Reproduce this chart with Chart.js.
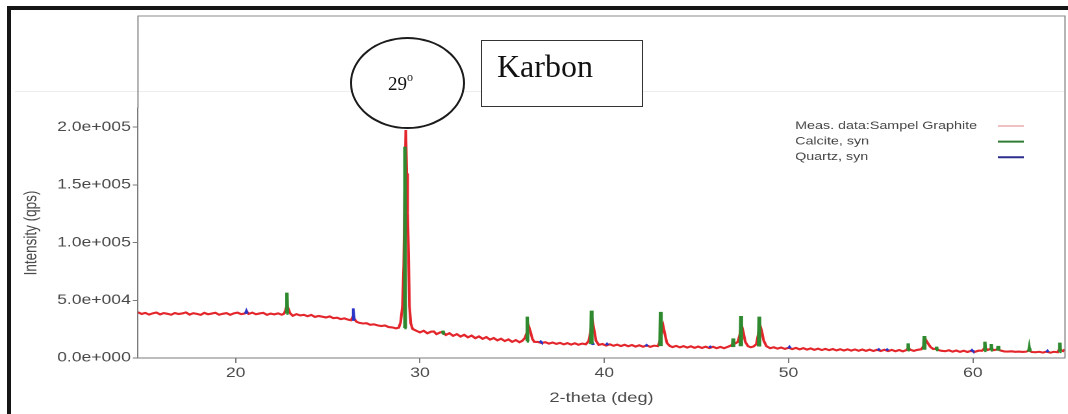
<!DOCTYPE html>
<html>
<head>
<meta charset="utf-8">
<script src="https://cdn.jsdelivr.net/npm/chart.js@4.4.1/dist/chart.umd.min.js"></script>
<style>
  html, body { margin: 0; padding: 0; background: #fff; }
  body { width: 1068px; height: 414px; overflow: hidden; position: relative; }
  #frame { position: absolute; left: 7px; top: 6px; width: 2000px; height: 1000px;
           border-left: 4px solid #151515; border-top: 4px solid #151515; }
  #faint { position: absolute; left: 15px; top: 91px; width: 1050px; height: 1px; background: #ededed; }
  #stretch { position: absolute; left: 0; top: 0; width: 822px; height: 414px;
             transform: scaleX(1.29927); transform-origin: 0 0; }
  #ring { position: absolute; left: 350px; top: 37px; width: 111px; height: 88px;
          border: 2px solid #1c1c1c; border-radius: 50%; background: #fff; }
  .serif { position: absolute; font-family: "Liberation Serif", "Times New Roman", serif; color: #111; line-height: 1; white-space: nowrap; }
  #deg { left: 388px; top: 74px; font-size: 19px; }
  #deg sup { font-size: 12px; vertical-align: 0; position: relative; top: -9px; }
  #karbonBox { position: absolute; left: 481px; top: 40px; width: 160px; height: 65px; border: 1px solid #333; background: #fff; }
  #karbon { left: 497px; top: 50px; font-size: 32px; }
</style>
</head>
<body>
<div id="frame"></div>
<div id="faint"></div>
<div id="stretch"><canvas id="xrd" width="822" height="414"></canvas></div>
<div id="ring"></div>
<div id="deg" class="serif">29<sup>o</sup></div>
<div id="karbonBox"></div>
<div id="karbon" class="serif">Karbon</div>
<script>
const seriesLabels = ['Meas. data:Sampel Graphite', 'Calcite, syn', 'Quartz, syn'];
const xTicks = [20, 30, 40, 50, 60];
const yTicks = [0, 50000, 100000, 150000, 200000];

const measTheta = [
  14.7, 14.9, 15.1, 15.3, 15.5, 15.7, 15.9, 16.1, 16.3, 16.5,
  16.7, 16.9, 17.1, 17.3, 17.5, 17.7, 17.9, 18.1, 18.3, 18.5,
  18.7, 18.9, 19.1, 19.3, 19.5, 19.7, 19.9, 20.1, 20.3, 20.5,
  20.6, 20.7, 20.9, 21.1, 21.3, 21.5, 21.7, 21.9, 22.1, 22.3,
  22.5, 22.62, 22.7, 22.78, 22.86, 22.95, 23.1, 23.3, 23.5, 23.7,
  23.9, 24.1, 24.3, 24.5, 24.7, 24.9, 25.1, 25.3, 25.5, 25.7,
  25.9, 26.1, 26.25, 26.35, 26.45, 26.55, 26.7, 26.9, 27.1, 27.3,
  27.5, 27.7, 27.9, 28.1, 28.3, 28.5, 28.7, 28.85, 28.95, 29.05,
  29.12, 29.18, 29.23, 29.28, 29.33, 29.38, 29.43, 29.5, 29.6, 29.8,
  30.0, 30.2, 30.4, 30.6, 30.75, 30.9, 31.1, 31.25, 31.4, 31.6,
  31.8, 32.0, 32.2, 32.4, 32.6, 32.8, 33.0, 33.2, 33.4, 33.6,
  33.8, 34.0, 34.2, 34.4, 34.6, 34.8, 35.0, 35.2, 35.4, 35.55,
  35.7, 35.8, 35.9, 36.0, 36.1, 36.2, 36.4, 36.6, 36.8, 37.0,
  37.2, 37.4, 37.6, 37.8, 38.0, 38.2, 38.4, 38.6, 38.8, 39.0,
  39.15, 39.25, 39.35, 39.45, 39.55, 39.7, 39.9, 40.1, 40.3, 40.5,
  40.7, 40.9, 41.1, 41.3, 41.5, 41.7, 41.9, 42.1, 42.3, 42.5,
  42.7, 42.9, 43.0, 43.1, 43.2, 43.3, 43.4, 43.55, 43.7, 43.9,
  44.1, 44.3, 44.5, 44.7, 44.9, 45.1, 45.3, 45.5, 45.7, 45.9,
  46.1, 46.3, 46.5, 46.7, 46.9, 47.0, 47.1, 47.25, 47.35, 47.45,
  47.55, 47.65, 47.8, 47.95, 48.1, 48.25, 48.35, 48.45, 48.55, 48.65,
  48.8, 49.0, 49.2, 49.4, 49.6, 49.8, 50.0, 50.2, 50.4, 50.6,
  50.8, 51.0, 51.2, 51.4, 51.6, 51.8, 52.0, 52.2, 52.4, 52.6,
  52.8, 53.0, 53.2, 53.4, 53.6, 53.8, 54.0, 54.2, 54.4, 54.6,
  54.8, 55.0, 55.2, 55.4, 55.6, 55.8, 56.0, 56.2, 56.4, 56.5,
  56.6, 56.8, 57.0, 57.2, 57.35, 57.45, 57.55, 57.7, 57.85, 58.0,
  58.1, 58.3, 58.5, 58.7, 58.9, 59.1, 59.3, 59.5, 59.7, 59.9,
  60.1, 60.3, 60.5, 60.65, 60.8, 61.0, 61.15, 61.35, 61.5, 61.7,
  61.9, 62.1, 62.3, 62.5, 62.7, 62.9, 63.05, 63.2, 63.4, 63.6,
  63.8, 64.0, 64.2, 64.4, 64.6, 64.7, 64.8, 64.9, 65.0
];
const measCounts = [
  39600, 38200, 39100, 37600, 38700, 39400, 37800, 38900, 38300, 37500,
  39000, 38100, 38600, 39500, 37600, 38800, 38200, 37400, 39100, 37900,
  38500, 39200, 37500, 38300, 38900, 37400, 38700, 39300, 38000, 38600,
  40400, 38200, 39300, 37900, 38600, 39100, 37400, 38500, 37800, 38700,
  37500, 38300, 41000, 46000, 42500, 38800, 36600, 38000, 36900, 37400,
  36200, 37300, 35600, 36400, 35800, 35100, 36000, 34500, 34900, 33700,
  34300, 33200, 32700, 35500, 33600, 31500, 30500, 29900, 30100, 28800,
  29200, 28300, 27700, 28200, 26800, 26500, 25700, 26300, 31000, 45000,
  80000, 150000, 197500, 160000, 126000, 90000, 45000, 30000, 25200, 23600,
  22200, 23600, 21400, 22800, 23000, 20700, 22200, 22600, 20000, 21500,
  19200, 20700, 18600, 20100, 17900, 19400, 17200, 18700, 16600, 18100,
  15900, 17300, 15300, 16700, 14700, 16100, 14000, 15500, 13700, 14900,
  17500, 22000, 27500, 22500, 16500, 14000, 13900, 13000, 13700, 12500,
  13400, 12200, 13100, 11800, 12900, 11600, 12700, 11500, 12500, 11900,
  14500, 22000, 33000, 24000, 15000, 11400, 12100, 10800, 11900, 10600,
  11600, 10300, 11400, 10200, 11200, 9900, 11000, 9800, 10900, 9700,
  10700, 10300, 13500, 21000, 27500, 20000, 13000, 10500, 9500, 10500,
  9200, 10300, 9000, 10100, 8800, 9900, 8700, 9800, 8600, 9700,
  8500, 9600, 8500, 9700, 11000, 13500, 12600, 14000, 20000, 28500,
  22000, 14000, 10200, 9300, 10000, 12000, 20000, 28600, 23000, 15000,
  10200, 8500, 9300, 8100, 9100, 7900, 8900, 7700, 8700, 7500,
  8500, 7300, 8300, 7100, 8100, 6900, 7900, 6800, 7800, 6600,
  7600, 6500, 7500, 6400, 7400, 6300, 7300, 6200, 7200, 6100,
  7100, 6100, 7100, 6000, 7000, 5900, 6900, 5800, 6900, 8600,
  7200, 6200, 7100, 7500, 11000, 15600, 13000, 9500, 7800, 8000,
  7000, 6200, 5900, 6700, 5500, 6500, 5300, 6300, 5200, 6200,
  5300, 6300, 6300, 8800, 7000, 8200, 6800, 7500, 6500, 5700,
  5600, 5800, 5400, 5600, 5300, 5500, 6500, 5200, 5000, 5400,
  4700, 5500, 4600, 5400, 5000, 7800, 6800, 6000, 7500
];

const calcitePos  = [22.78, 29.18, 31.25, 35.82, 39.3, 43.05, 46.99, 47.41, 48.4, 56.49, 57.36, 58.03, 60.65, 61.0, 61.37, 63.06, 64.72];
const calciteTop  = [56600, 183000, 23700, 35800, 41000, 40000, 17000, 36400, 35800, 12700, 19000, 9800, 14100, 12100, 10400, 8400, 13300];
const calciteBase = [38500, 26000, 21000, 14500, 12000, 10300, 9500, 10200, 10000, 6800, 7200, 7000, 6200, 6600, 6400, 5600, 5400];

const quartzPos  = [20.58, 26.38, 36.55, 39.38, 40.15, 42.3, 45.75, 50.05, 54.9, 55.35, 59.95, 64.05];
const quartzTop  = [40800, 43000, 14300, 12800, 12300, 11200, 9800, 9700, 7500, 7400, 6900, 6200];
const quartzBase = [38400, 33000, 13400, 11400, 11200, 10300, 9000, 8400, 6600, 6500, 5900, 5100];

function sticks(pos, top, base, half) {
  let pts = [];
  pos.forEach((p, i) => {
    pts.push({x: p - half, y: base[i]}, {x: p, y: top[i]}, {x: p + half, y: base[i]}, {x: p, y: null});
  });
  return pts;
}

function sci(v) {
  if (v === 0) return '0.0e+000';
  const e = Math.floor(Math.log10(v));
  return (v / Math.pow(10, e)).toFixed(1) + 'e+' + String(e).padStart(3, '0');
}

const frameAndKey = {
  id: 'frameAndKey',
  afterDraw(chart) {
    const {ctx, chartArea: a} = chart;
    ctx.save();
    ctx.strokeStyle = '#8a8a8a';
    ctx.lineWidth = 1;
    ctx.beginPath();
    ctx.moveTo(a.left, a.top);
    ctx.lineTo(a.left, 16);
    ctx.lineTo(a.right, 16);
    ctx.lineTo(a.right, a.bottom);
    ctx.stroke();

    const keyColors = ['#dc8585', '#2e7d32', '#2c2c8c'];
    ctx.font = '11px "Liberation Sans", Arial, sans-serif';
    ctx.textBaseline = 'middle';
    chart.data.datasets.forEach((ds, i) => {
      const y = 126 + i * 15.6;
      ctx.fillStyle = '#454545';
      ctx.fillText(ds.label, 612, y);
      ctx.strokeStyle = keyColors[i];
      ctx.lineWidth = i === 0 ? 1 : 2;
      ctx.beginPath();
      ctx.moveTo(768, y);
      ctx.lineTo(788, y);
      ctx.stroke();
    });
    ctx.restore();
  }
};

Chart.defaults.font.family = '"Liberation Sans", Arial, sans-serif';
Chart.defaults.color = '#4a4a4a';

let ctx = document.getElementById('xrd');
let xrdChart = new Chart(ctx, {
  type: 'line',
  data: {
    datasets: [
      {
        label: seriesLabels[0],
        data: measTheta.map((t, i) => ({x: t, y: measCounts[i]})),
        borderColor: '#e3262b',
        borderWidth: 2.1,
        pointRadius: 0,
        order: 3
      },
      {
        label: seriesLabels[1],
        data: sticks(calcitePos, calciteTop, calciteBase, 0.03),
        borderColor: '#2f8a2f',
        borderWidth: 2.6,
        pointRadius: 0,
        order: 1
      },
      {
        label: seriesLabels[2],
        data: sticks(quartzPos, quartzTop, quartzBase, 0.06),
        borderColor: '#2b35c8',
        borderWidth: 2,
        pointRadius: 0,
        order: 2
      }
    ]
  },
  options: {
    responsive: false,
    animation: false,
    devicePixelRatio: 2,
    spanGaps: false,
    layout: { padding: { top: 108, right: 2.3, bottom: 0, left: 0 } },
    plugins: { legend: { display: false }, tooltip: { enabled: false } },
    scales: {
      x: {
        type: 'linear',
        min: 14.7,
        max: 65,
        afterBuildTicks: s => { s.ticks = xTicks.map(v => ({value: v})); },
        afterFit: s => { s.height = 56; },
        grid: { drawOnChartArea: false, tickLength: 5, color: '#7a7a7a' },
        border: { color: '#7a7a7a' },
        ticks: { font: { size: 13.5 }, padding: 2, maxRotation: 0, callback: v => String(v) },
        title: { display: true, text: '2-theta (deg)', font: { size: 14 }, padding: { top: 0, bottom: 7.6 } }
      },
      y: {
        min: 0,
        max: 216600,
        afterBuildTicks: s => { s.ticks = yTicks.map(v => ({value: v})); },
        afterFit: s => { s.width = 106.2; },
        grid: { drawOnChartArea: false, tickLength: 4, color: '#7a7a7a' },
        border: { color: '#7a7a7a' },
        ticks: { font: { size: 13.5 }, padding: 1.5, callback: v => sci(v) },
        title: { display: true, text: 'Intensity (qps)', font: { size: 13.5 }, padding: { top: 16.3, bottom: 0 } }
      }
    }
  },
  plugins: [frameAndKey]
});
</script>
</body>
</html>
